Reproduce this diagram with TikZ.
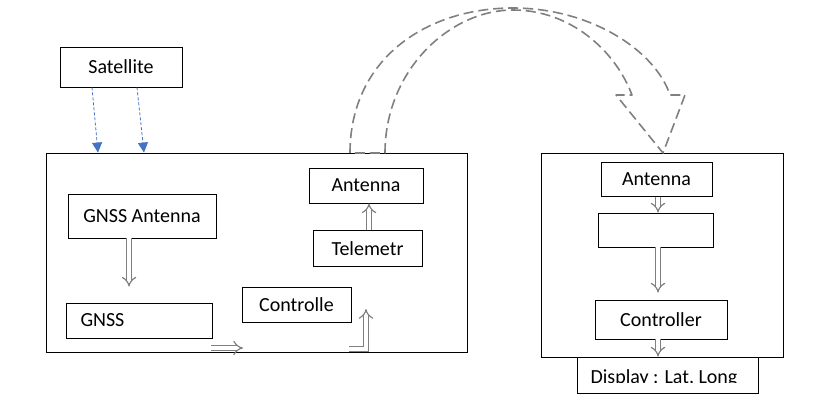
\documentclass[tikz,border=0pt]{standalone}
\usepackage{fontspec}
\setmainfont{Carlito}
\usetikzlibrary{arrows.meta,positioning}

\definecolor{wordblue}{RGB}{68,114,196}

\begin{document}
\begin{tikzpicture}[x=1pt,y=-1pt,
	box/.style={draw,line width=0.9pt,inner sep=0pt,font=\fontsize{20}{24}\selectfont},
	hollow/.style={draw=gray,line width=1.2pt,double=white,double distance=3.8pt,-{Implies[scale=1.4]}},
	radio/.style={draw=wordblue,line width=0.8pt,dash pattern=on 3pt off 2pt,
		-{Triangle[width=10pt,length=10pt]}},
	bigarrow/.style={draw=gray,line width=1.6pt,dash pattern=on 10pt off 5pt,line join=round}]
		
		\useasboundingbox (0,0) rectangle (830,416);
		
		% transmitter side
		\node[box,minimum width=122,minimum height=40] (sat) at (121,67) {Satellite};
		
		\node[box,minimum width=421,minimum height=199] (lbox) at (256.5,252.5) {};
		
		\node[box,minimum width=148,minimum height=44] (gant) at (142,216) {GNSS Antenna};
		
		\node[box,minimum height=35,inner xsep=14pt,text width=118pt,align=left] (gnss) at (139.5,320.5) {GNSS};
		
		\node[box,minimum width=109,minimum height=35] (ctrl) at (296.5,304.5) {Controlle};
		
		\node[box,minimum width=109,minimum height=36] (tel) at (367.5,248.5) {Telemetr};
		
		\node[box,minimum width=114,minimum height=35] (ant) at (366,185.5) {Antenna};
		
		% receiver side
		\node[box,minimum width=242,minimum height=204] (rbox) at (662,255) {};
		
		\node[box,minimum width=111,minimum height=34] (rant) at (656.5,179.5) {Antenna};
		
		\node[box,minimum width=115,minimum height=34] (rmid) at (655.5,230) {};
		
		\node[box,minimum width=132,minimum height=39] (rctrl) at (661,319.5) {Controller};
		
		\node[box,minimum width=181,minimum height=36] (disp) at (668,375) {};
		
		\begin{scope}
			\clip (disp.north west) rectangle (759,382);
			\node[font=\fontsize{20}{24}\selectfont,anchor=base,inner sep=0pt] (disptext) at (664,383) {Display : Lat, Long};
		\end{scope}
		
		% signals
		\draw[radio] (sat.south -| 92,0) -- (lbox.north -| 98,0);
		
		\draw[radio] (sat.south -| 137,0) -- (lbox.north -| 144,0);
		
		\draw[hollow] (gant.south -| 129,0) -- ([yshift=16pt]gnss.north -| 129,0);
		
		\coordinate (b1) at (211,348);
		\coordinate (b2) at (243,348);
		\draw[hollow] (b1) -- (b2);
		
		\coordinate (l1) at (349,349);
		\coordinate (l2) at (366,349);
		\coordinate (l3) at (366,309);
		\draw[hollow] (l1) -- (l2) -- (l3);
		
		\draw[hollow] (tel.north -| 369,0) -- (ant.south -| 369,0);
		
		\draw[hollow] (rant.south -| 658,0) -- (rmid.north -| 658,0);
		
		\draw[hollow] (rmid.south -| 658,0) -- ([yshift=7pt]rctrl.north -| 658,0);
		
		\draw[hollow] (rctrl.south -| 658,0) -- (disp.north -| 658,0);
		
		% link between the two sides
		\draw[bigarrow] (350,153) .. controls (350,60) and (425,8) .. (513,8)
			.. controls (590,8) and (655,50) .. (670,95) -- (685,95) -- (663,153) -- (616,95) -- (632,95)
			.. controls (615,50) and (570,10) .. (513,10)
			.. controls (450,10) and (385,70) .. (385,153) -- cycle;
		
	\end{tikzpicture}
\end{document}
